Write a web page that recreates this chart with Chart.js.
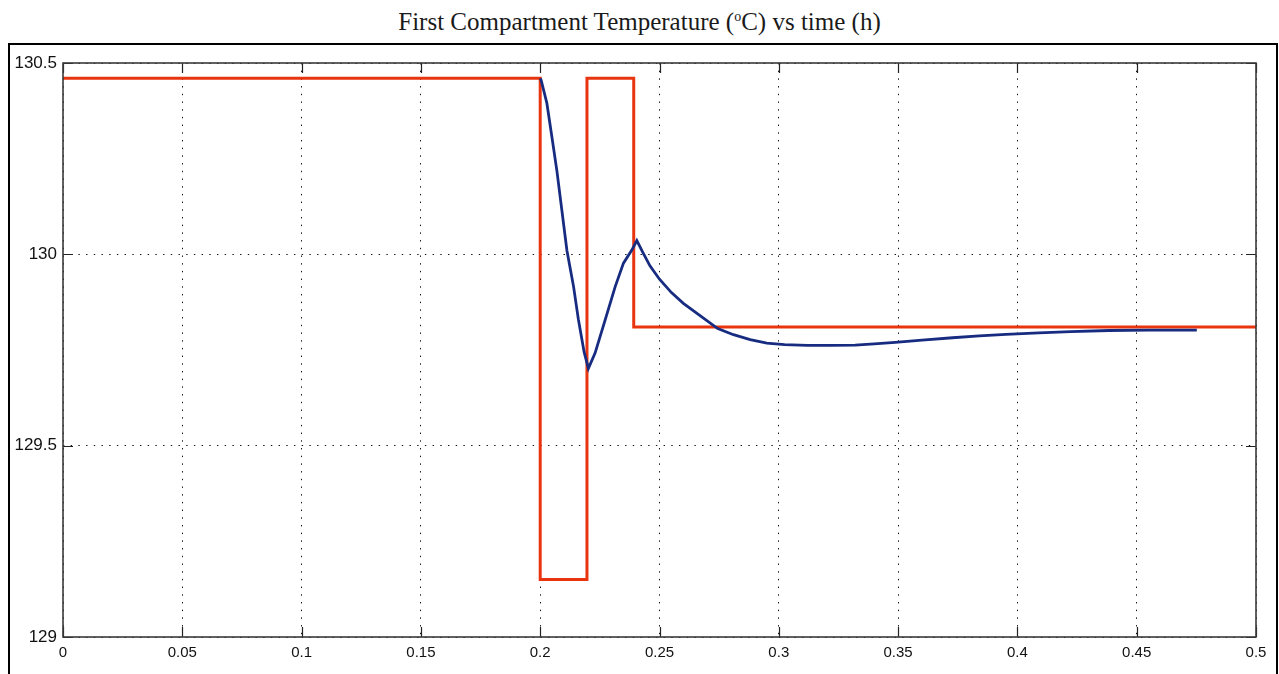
<!DOCTYPE html>
<html>
<head>
<meta charset="utf-8">
<script src="https://cdn.jsdelivr.net/npm/chart.js@4/dist/chart.umd.min.js"></script>
<style>
  html, body { margin: 0; padding: 0; background: #fff; overflow: hidden; }
  #wrap { position: relative; width: 1279px; height: 674px; }
  #title {
    position: absolute; left: 0; top: 8px; width: 1279px; text-align: center;
    font-family: "Liberation Serif", "DejaVu Serif", serif; font-size: 25px; color: #1a1a1a;
  }
  #title sup { font-size: 14px; vertical-align: 9px; line-height: 0; }
  #frame { position: absolute; left: 8px; top: 43px; width: 1266px; height: 700px; border: 2px solid #000; }
  #chart { position: absolute; left: 0; top: 0; }
</style>
</head>
<body>
<div id="wrap">
  <div id="title">First Compartment Temperature (<sup>o</sup>C) vs time (h)</div>
  <div id="frame"></div>
  <canvas id="chart" width="1279" height="674"></canvas>
</div>
<script>
// axis ticks: time (h) and temperature (oC)
const xTicks = [0, 0.05, 0.1, 0.15, 0.2, 0.25, 0.3, 0.35, 0.4, 0.45, 0.5];
const yTicks = [129, 129.5, 130, 130.5];

// setpoint, square pulse then new level
const setTime = [0, 0.2, 0.2, 0.2196, 0.2196, 0.2392, 0.2392, 0.5];
const setTemp = [130.46, 130.46, 129.15, 129.15, 130.46, 130.46, 129.81, 129.81];

// measured temperature of the first compartment
const measTime = [0.2, 0.2004, 0.2028, 0.2049, 0.2070, 0.2087, 0.2112, 0.2140, 0.2160, 0.2184, 0.2202,
  0.2230, 0.2272, 0.2314, 0.2349, 0.2384, 0.2405, 0.2430, 0.2460, 0.2500, 0.2550, 0.2600, 0.2670,
  0.2744, 0.2810, 0.2880, 0.2950, 0.3024, 0.3120, 0.3220, 0.3320, 0.3400, 0.3488, 0.3600, 0.3728,
  0.3840, 0.3952, 0.4090, 0.4224, 0.4384, 0.4550, 0.4752];
const measTemp = [130.46, 130.455, 130.395, 130.307, 130.218, 130.134, 130.010, 129.915, 129.830, 129.745, 129.702,
  129.742, 129.828, 129.915, 129.977, 130.011, 130.036, 130.005, 129.970, 129.935, 129.900, 129.872, 129.840,
  129.806, 129.790, 129.777, 129.768, 129.764, 129.762, 129.762, 129.763, 129.766, 129.770, 129.776, 129.782,
  129.787, 129.791, 129.795, 129.798, 129.801, 129.802, 129.802];

const toXY = (xs, ys) => xs.map((v, i) => ({ x: v, y: ys[i] }));

// box around the plot + inward tick marks on all four sides
const frameTicks = {
  id: 'frameTicks',
  afterDraw(chart) {
    const { ctx, chartArea: a, scales: { x, y } } = chart;
    const len = 10;
    ctx.save();
    ctx.strokeStyle = '#222';
    ctx.lineWidth = 1.2;
    ctx.beginPath();
    xTicks.forEach(v => {
      const px = Math.round(x.getPixelForValue(v)) + 0.5;
      ctx.moveTo(px, a.bottom); ctx.lineTo(px, a.bottom - len);
      ctx.moveTo(px, a.top); ctx.lineTo(px, a.top + len);
    });
    yTicks.forEach(v => {
      const py = Math.round(y.getPixelForValue(v)) + 0.5;
      ctx.moveTo(a.left, py); ctx.lineTo(a.left + len, py);
      ctx.moveTo(a.right, py); ctx.lineTo(a.right - len, py);
    });
    ctx.stroke();
    ctx.strokeStyle = '#3a3a3a';
    ctx.lineWidth = 1.6;
    ctx.strokeRect(a.left, a.top, a.right - a.left, a.bottom - a.top);
    ctx.restore();
  }
};

const tickFont = (size) => ({ family: '"Liberation Sans", Arial, sans-serif', size });

new Chart(document.getElementById('chart'), {
  type: 'scatter',
  data: {
    datasets: [
      {
        data: toXY(measTime, measTemp),
        showLine: true, borderColor: '#172c80', borderWidth: 2.8,
        pointRadius: 0, order: 0
      },
      {
        data: toXY(setTime, setTemp),
        showLine: true, borderColor: '#e8350f', borderWidth: 3,
        borderJoinStyle: 'miter', pointRadius: 0, order: 1
      }
    ]
  },
  options: {
    responsive: false,
    animation: false,
    layout: { padding: { top: 63, right: 23, left: 0, bottom: 0 } },
    plugins: { legend: { display: false }, tooltip: { enabled: false } },
    scales: {
      x: {
        type: 'linear', min: 0, max: 0.5,
        afterBuildTicks: s => { s.ticks = xTicks.map(v => ({ value: v })); },
        afterFit: s => { s.height = 37; },
        ticks: {
          color: '#111', font: tickFont(15), padding: 7, maxRotation: 0, autoSkip: false,
          callback: v => String(v)
        },
        grid: { color: '#111', lineWidth: 1, drawTicks: false },
        border: { display: false, dash: [1.4, 6.3] }
      },
      y: {
        min: 129, max: 130.5,
        afterBuildTicks: s => { s.ticks = yTicks.map(v => ({ value: v })); },
        afterFit: s => { s.width = 63; },
        ticks: { color: '#111', font: tickFont(17), padding: 6, autoSkip: false, callback: v => String(v) },
        grid: { color: '#111', lineWidth: 1, drawTicks: false },
        border: { display: false, dash: [1.4, 6.3] }
      }
    }
  },
  plugins: [frameTicks]
});
</script>
</body>
</html>
